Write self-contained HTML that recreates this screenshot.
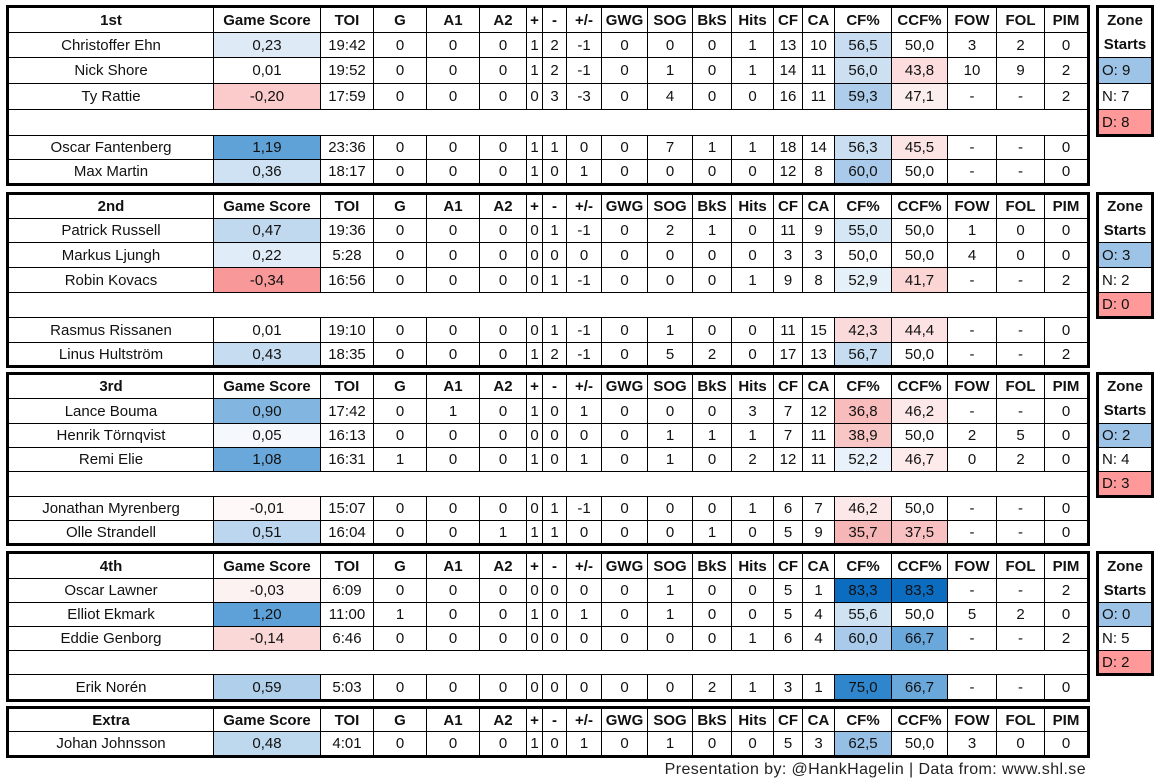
<!DOCTYPE html>
<html><head><meta charset="utf-8"><style>
body{margin:0;width:1164px;height:784px;background:#fff;position:relative;overflow:hidden;font-family:"Liberation Sans",sans-serif;font-size:15px;color:#111}
table{position:absolute;left:6px;border-collapse:collapse;table-layout:fixed;border:3px solid #000;width:1084px}
td{border:1px solid #000;padding:0;text-align:center;white-space:nowrap;overflow:hidden}
tr.h td{font-weight:bold}
td.sp{border-left:none;border-right:none}
table.z{left:1096px;width:58px}
table.z td{text-align:left;padding-left:3px}
table.z tr.h td{text-align:center;padding-left:0;border-bottom:none;border-top:none}
.foot{position:absolute;right:78px;top:761px;font-size:16px;letter-spacing:0.4px;color:#222}
</style></head><body>
<table style="top:5px">
<colgroup><col style="width:206px"><col style="width:107px"><col style="width:53px"><col style="width:53px"><col style="width:53px"><col style="width:47px"><col style="width:16px"><col style="width:24px"><col style="width:35px"><col style="width:46px"><col style="width:45px"><col style="width:39px"><col style="width:42px"><col style="width:29px"><col style="width:32px"><col style="width:57px"><col style="width:56px"><col style="width:49px"><col style="width:48px"><col style="width:44px"></colgroup>
<tr class="h" style="height:26px"><td>1st</td><td>Game Score</td><td>TOI</td><td>G</td><td>A1</td><td>A2</td><td>+</td><td>-</td><td>+/-</td><td>GWG</td><td>SOG</td><td>BkS</td><td>Hits</td><td>CF</td><td>CA</td><td>CF%</td><td>CCF%</td><td>FOW</td><td>FOL</td><td>PIM</td></tr>
<tr style="height:25px"><td>Christoffer Ehn</td><td style="background:#deebf7">0,23</td><td>19:42</td><td>0</td><td>0</td><td>0</td><td>1</td><td>2</td><td>-1</td><td>0</td><td>0</td><td>0</td><td>1</td><td>13</td><td>10</td><td style="background:#c8ddf1">56,5</td><td>50,0</td><td>3</td><td>2</td><td>0</td></tr>
<tr style="height:26px"><td>Nick Shore</td><td>0,01</td><td>19:52</td><td>0</td><td>0</td><td>0</td><td>1</td><td>2</td><td>-1</td><td>0</td><td>1</td><td>0</td><td>1</td><td>14</td><td>11</td><td style="background:#cde0f2">56,0</td><td style="background:#fcdcdc">43,8</td><td>10</td><td>9</td><td>2</td></tr>
<tr style="height:26px"><td>Ty Rattie</td><td style="background:#fbcaca">-0,20</td><td>17:59</td><td>0</td><td>0</td><td>0</td><td>0</td><td>3</td><td>-3</td><td>0</td><td>4</td><td>0</td><td>0</td><td>16</td><td>11</td><td style="background:#aecdea">59,3</td><td style="background:#fdeeee">47,1</td><td>-</td><td>-</td><td>2</td></tr>
<tr style="height:26px"><td class="sp" colspan="20"></td></tr>
<tr style="height:24px"><td>Oscar Fantenberg</td><td style="background:#5fa2d8">1,19</td><td>23:36</td><td>0</td><td>0</td><td>0</td><td>1</td><td>1</td><td>0</td><td>0</td><td>7</td><td>1</td><td>1</td><td>18</td><td>14</td><td style="background:#cadef1">56,3</td><td style="background:#fce4e4">45,5</td><td>-</td><td>-</td><td>0</td></tr>
<tr style="height:25px"><td>Max Martin</td><td style="background:#cfe2f3">0,36</td><td>18:17</td><td>0</td><td>0</td><td>0</td><td>1</td><td>0</td><td>1</td><td>0</td><td>0</td><td>0</td><td>0</td><td>12</td><td>8</td><td style="background:#a9caea">60,0</td><td>50,0</td><td>-</td><td>-</td><td>0</td></tr>
</table>
<table class="z" style="top:5px"><tr class="h" style="height:26px"><td>Zone</td></tr><tr class="h" style="height:25px"><td>Starts</td></tr><tr style="height:26px"><td style="background:#9dc3e6">O: 9</td></tr><tr style="height:26px"><td>N: 7</td></tr><tr style="height:26px"><td style="background:#ff9999">D: 8</td></tr></table>

<table style="top:192px">
<colgroup><col style="width:206px"><col style="width:107px"><col style="width:53px"><col style="width:53px"><col style="width:53px"><col style="width:47px"><col style="width:16px"><col style="width:24px"><col style="width:35px"><col style="width:46px"><col style="width:45px"><col style="width:39px"><col style="width:42px"><col style="width:29px"><col style="width:32px"><col style="width:57px"><col style="width:56px"><col style="width:49px"><col style="width:48px"><col style="width:44px"></colgroup>
<tr class="h" style="height:25px"><td>2nd</td><td>Game Score</td><td>TOI</td><td>G</td><td>A1</td><td>A2</td><td>+</td><td>-</td><td>+/-</td><td>GWG</td><td>SOG</td><td>BkS</td><td>Hits</td><td>CF</td><td>CA</td><td>CF%</td><td>CCF%</td><td>FOW</td><td>FOL</td><td>PIM</td></tr>
<tr style="height:24px"><td>Patrick Russell</td><td style="background:#c0d9ee">0,47</td><td>19:36</td><td>0</td><td>0</td><td>0</td><td>0</td><td>1</td><td>-1</td><td>0</td><td>2</td><td>1</td><td>0</td><td>11</td><td>9</td><td style="background:#d5e6f4">55,0</td><td>50,0</td><td>1</td><td>0</td><td>0</td></tr>
<tr style="height:25px"><td>Markus Ljungh</td><td style="background:#e0ecf7">0,22</td><td>5:28</td><td>0</td><td>0</td><td>0</td><td>0</td><td>0</td><td>0</td><td>0</td><td>0</td><td>0</td><td>0</td><td>3</td><td>3</td><td>50,0</td><td>50,0</td><td>4</td><td>0</td><td>0</td></tr>
<tr style="height:25px"><td>Robin Kovacs</td><td style="background:#f89898">-0,34</td><td>16:56</td><td>0</td><td>0</td><td>0</td><td>0</td><td>1</td><td>-1</td><td>0</td><td>0</td><td>0</td><td>1</td><td>9</td><td>8</td><td style="background:#e6f0f9">52,9</td><td style="background:#fbd4d4">41,7</td><td>-</td><td>-</td><td>2</td></tr>
<tr style="height:25px"><td class="sp" colspan="20"></td></tr>
<tr style="height:25px"><td>Rasmus Rissanen</td><td>0,01</td><td>19:10</td><td>0</td><td>0</td><td>0</td><td>0</td><td>1</td><td>-1</td><td>0</td><td>1</td><td>0</td><td>0</td><td>11</td><td>15</td><td style="background:#fadada">42,3</td><td style="background:#fce2e2">44,4</td><td>-</td><td>-</td><td>0</td></tr>
<tr style="height:24px"><td>Linus Hultström</td><td style="background:#c6dcf0">0,43</td><td>18:35</td><td>0</td><td>0</td><td>0</td><td>1</td><td>2</td><td>-1</td><td>0</td><td>5</td><td>2</td><td>0</td><td>17</td><td>13</td><td style="background:#c6dcf0">56,7</td><td>50,0</td><td>-</td><td>-</td><td>2</td></tr>
</table>
<table class="z" style="top:192px"><tr class="h" style="height:25px"><td>Zone</td></tr><tr class="h" style="height:24px"><td>Starts</td></tr><tr style="height:25px"><td style="background:#9dc3e6">O: 3</td></tr><tr style="height:25px"><td>N: 2</td></tr><tr style="height:25px"><td style="background:#ff9999">D: 0</td></tr></table>

<table style="top:372px">
<colgroup><col style="width:206px"><col style="width:107px"><col style="width:53px"><col style="width:53px"><col style="width:53px"><col style="width:47px"><col style="width:16px"><col style="width:24px"><col style="width:35px"><col style="width:46px"><col style="width:45px"><col style="width:39px"><col style="width:42px"><col style="width:29px"><col style="width:32px"><col style="width:57px"><col style="width:56px"><col style="width:49px"><col style="width:48px"><col style="width:44px"></colgroup>
<tr class="h" style="height:25px"><td>3rd</td><td>Game Score</td><td>TOI</td><td>G</td><td>A1</td><td>A2</td><td>+</td><td>-</td><td>+/-</td><td>GWG</td><td>SOG</td><td>BkS</td><td>Hits</td><td>CF</td><td>CA</td><td>CF%</td><td>CCF%</td><td>FOW</td><td>FOL</td><td>PIM</td></tr>
<tr style="height:25px"><td>Lance Bouma</td><td style="background:#82b6e1">0,90</td><td>17:42</td><td>0</td><td>1</td><td>0</td><td>1</td><td>0</td><td>1</td><td>0</td><td>0</td><td>0</td><td>3</td><td>7</td><td>12</td><td style="background:#f8bcbc">36,8</td><td style="background:#fce8e8">46,2</td><td>-</td><td>-</td><td>0</td></tr>
<tr style="height:24px"><td>Henrik Törnqvist</td><td style="background:#f5f9fd">0,05</td><td>16:13</td><td>0</td><td>0</td><td>0</td><td>0</td><td>0</td><td>0</td><td>0</td><td>1</td><td>1</td><td>1</td><td>7</td><td>11</td><td style="background:#f9c6c6">38,9</td><td>50,0</td><td>2</td><td>5</td><td>0</td></tr>
<tr style="height:24px"><td>Remi Elie</td><td style="background:#6aa8dc">1,08</td><td>16:31</td><td>1</td><td>0</td><td>0</td><td>1</td><td>0</td><td>1</td><td>0</td><td>1</td><td>0</td><td>2</td><td>12</td><td>11</td><td style="background:#e9f1fa">52,2</td><td style="background:#fdeaea">46,7</td><td>0</td><td>2</td><td>0</td></tr>
<tr style="height:25px"><td class="sp" colspan="20"></td></tr>
<tr style="height:24px"><td>Jonathan Myrenberg</td><td style="background:#fef8f8">-0,01</td><td>15:07</td><td>0</td><td>0</td><td>0</td><td>0</td><td>1</td><td>-1</td><td>0</td><td>0</td><td>0</td><td>1</td><td>6</td><td>7</td><td style="background:#fce8e8">46,2</td><td>50,0</td><td>-</td><td>-</td><td>0</td></tr>
<tr style="height:24px"><td>Olle Strandell</td><td style="background:#bbd6ee">0,51</td><td>16:04</td><td>0</td><td>0</td><td>1</td><td>1</td><td>1</td><td>0</td><td>0</td><td>0</td><td>1</td><td>0</td><td>5</td><td>9</td><td style="background:#f7b6b6">35,7</td><td style="background:#f8c0c0">37,5</td><td>-</td><td>-</td><td>0</td></tr>
</table>
<table class="z" style="top:372px"><tr class="h" style="height:25px"><td>Zone</td></tr><tr class="h" style="height:25px"><td>Starts</td></tr><tr style="height:24px"><td style="background:#9dc3e6">O: 2</td></tr><tr style="height:24px"><td>N: 4</td></tr><tr style="height:25px"><td style="background:#ff9999">D: 3</td></tr></table>

<table style="top:551px">
<colgroup><col style="width:206px"><col style="width:107px"><col style="width:53px"><col style="width:53px"><col style="width:53px"><col style="width:47px"><col style="width:16px"><col style="width:24px"><col style="width:35px"><col style="width:46px"><col style="width:45px"><col style="width:39px"><col style="width:42px"><col style="width:29px"><col style="width:32px"><col style="width:57px"><col style="width:56px"><col style="width:49px"><col style="width:48px"><col style="width:44px"></colgroup>
<tr class="h" style="height:26px"><td>4th</td><td>Game Score</td><td>TOI</td><td>G</td><td>A1</td><td>A2</td><td>+</td><td>-</td><td>+/-</td><td>GWG</td><td>SOG</td><td>BkS</td><td>Hits</td><td>CF</td><td>CA</td><td>CF%</td><td>CCF%</td><td>FOW</td><td>FOL</td><td>PIM</td></tr>
<tr style="height:24px"><td>Oscar Lawner</td><td style="background:#fdf2f2">-0,03</td><td>6:09</td><td>0</td><td>0</td><td>0</td><td>0</td><td>0</td><td>0</td><td>0</td><td>1</td><td>0</td><td>0</td><td>5</td><td>1</td><td style="background:#0b6cc0">83,3</td><td style="background:#0b6cc0">83,3</td><td>-</td><td>-</td><td>2</td></tr>
<tr style="height:24px"><td>Elliot Ekmark</td><td style="background:#5ea1d8">1,20</td><td>11:00</td><td>1</td><td>0</td><td>0</td><td>1</td><td>0</td><td>1</td><td>0</td><td>1</td><td>0</td><td>0</td><td>5</td><td>4</td><td style="background:#d0e3f3">55,6</td><td>50,0</td><td>5</td><td>2</td><td>0</td></tr>
<tr style="height:24px"><td>Eddie Genborg</td><td style="background:#fbd8d8">-0,14</td><td>6:46</td><td>0</td><td>0</td><td>0</td><td>0</td><td>0</td><td>0</td><td>0</td><td>0</td><td>0</td><td>1</td><td>6</td><td>4</td><td style="background:#a9caea">60,0</td><td style="background:#6aa8dc">66,7</td><td>-</td><td>-</td><td>2</td></tr>
<tr style="height:24px"><td class="sp" colspan="20"></td></tr>
<tr style="height:26px"><td>Erik Norén</td><td style="background:#b0cfeb">0,59</td><td>5:03</td><td>0</td><td>0</td><td>0</td><td>0</td><td>0</td><td>0</td><td>0</td><td>0</td><td>2</td><td>1</td><td>3</td><td>1</td><td style="background:#2f86cc">75,0</td><td style="background:#6aa8dc">66,7</td><td>-</td><td>-</td><td>0</td></tr>
</table>
<table class="z" style="top:551px"><tr class="h" style="height:26px"><td>Zone</td></tr><tr class="h" style="height:24px"><td>Starts</td></tr><tr style="height:24px"><td style="background:#9dc3e6">O: 0</td></tr><tr style="height:24px"><td>N: 5</td></tr><tr style="height:24px"><td style="background:#ff9999">D: 2</td></tr></table>

<table style="top:706px">
<colgroup><col style="width:206px"><col style="width:107px"><col style="width:53px"><col style="width:53px"><col style="width:53px"><col style="width:47px"><col style="width:16px"><col style="width:24px"><col style="width:35px"><col style="width:46px"><col style="width:45px"><col style="width:39px"><col style="width:42px"><col style="width:29px"><col style="width:32px"><col style="width:57px"><col style="width:56px"><col style="width:49px"><col style="width:48px"><col style="width:44px"></colgroup>
<tr class="h" style="height:24px"><td>Extra</td><td>Game Score</td><td>TOI</td><td>G</td><td>A1</td><td>A2</td><td>+</td><td>-</td><td>+/-</td><td>GWG</td><td>SOG</td><td>BkS</td><td>Hits</td><td>CF</td><td>CA</td><td>CF%</td><td>CCF%</td><td>FOW</td><td>FOL</td><td>PIM</td></tr>
<tr style="height:25px"><td>Johan Johnsson</td><td style="background:#bed8ee">0,48</td><td>4:01</td><td>0</td><td>0</td><td>0</td><td>1</td><td>0</td><td>1</td><td>0</td><td>1</td><td>0</td><td>0</td><td>5</td><td>3</td><td style="background:#96bfe5">62,5</td><td>50,0</td><td>3</td><td>0</td><td>0</td></tr>
</table>
<div class="foot">Presentation by: @HankHagelin | Data from: www.shl.se</div>
</body></html>
